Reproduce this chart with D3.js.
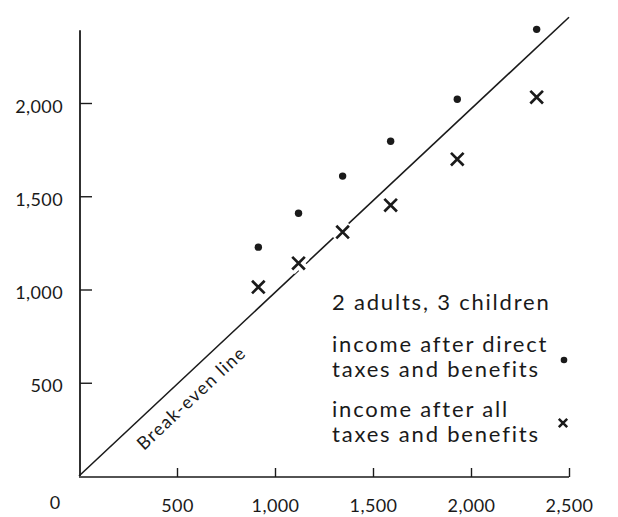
<!DOCTYPE html>
<html><head><meta charset="utf-8">
<script src="https://cdn.jsdelivr.net/npm/d3@7"></script>
<style>
html,body{margin:0;padding:0;background:#fff;}
svg{display:block;font-family:Lato,"Open Sans",sans-serif;}
</style></head>
<body><svg id="c" width="618" height="517"></svg>
<script>
// ---- data ----
const originalIncome = [915, 1120, 1345, 1590, 1930, 2335];
const afterDirect    = [1227, 1409, 1608, 1795, 2020, 2395];
const afterAll       = [1013, 1141, 1308, 1452, 1699, 2031];
const xTicks = [500, 1000, 1500, 2000, 2500];
const yTicks = [500, 1000, 1500, 2000];
const breakEven = [[0, 0], [2500, 2460]];
const legendTitle = "2 adults, 3 children";
const legendItems = [
  {lines: ["income after direct", "taxes and benefits"], symbol: "dot"},
  {lines: ["income after all", "taxes and benefits"], symbol: "cross"}
];
const lineLabel = "Break-even line";

const svg = d3.select("#c");
const x = d3.scaleLinear().domain([0, 2500]).range([79, 569]);
const y = d3.scaleLinear().domain([0, 2000]).range([476, 103]);
const fmt = d3.format(",");
const ink = "#1a1a1a";

// y axis
svg.append("line").attr("x1", x(0) + 1).attr("x2", x(0) + 1)
  .attr("y1", y(0)).attr("y2", y(2390))
  .attr("stroke", ink).attr("stroke-width", 1.8);
const ya = svg.append("g").attr("transform", `translate(${x(0) + 1},0)`)
  .call(d3.axisLeft(y).tickValues(yTicks).tickFormat(fmt).tickSizeInner(-12).tickSizeOuter(0).tickPadding(17));
ya.select(".domain").remove();
ya.selectAll(".tick line").attr("stroke", ink).attr("stroke-width", 1.4);
ya.selectAll(".tick text").attr("font-size", 18).attr("fill", ink).attr("letter-spacing", 0.4)
  .attr("font-family", "Lato").attr("dy", "0.5em");

// x axis
const xa = svg.append("g").attr("transform", `translate(0,${y(0) + 1})`)
  .call(d3.axisBottom(x).tickValues(xTicks).tickFormat(fmt).tickSizeInner(-9).tickSizeOuter(0).tickPadding(22));
xa.select(".domain").attr("stroke", ink).attr("stroke-width", 1.6).attr("d", `M${x(0)},0H${x(2500)}`);
xa.selectAll(".tick line").attr("stroke", ink).attr("stroke-width", 1.4);
xa.selectAll(".tick text").attr("font-size", 18).attr("fill", ink).attr("letter-spacing", 0.4)
  .attr("font-family", "Lato");
svg.append("text").attr("x", 55).attr("y", 509).attr("text-anchor", "middle")
  .attr("font-size", 18).attr("fill", ink).text("0");

// break-even line
svg.append("line")
  .attr("x1", x(breakEven[0][0])).attr("y1", y(breakEven[0][1]))
  .attr("x2", x(breakEven[1][0])).attr("y2", y(breakEven[1][1]))
  .attr("stroke", ink).attr("stroke-width", 1.6);
const ang = Math.atan2(y(breakEven[1][1]) - y(0), x(breakEven[1][0]) - x(0)) * 180 / Math.PI;
svg.append("text")
  .attr("transform", `translate(${x(573)},${y(418)}) rotate(${ang})`)
  .attr("text-anchor", "middle").attr("dy", "0.35em")
  .attr("font-size", 18).attr("letter-spacing", 1.3).attr("fill", ink).text(lineLabel);

// dots
svg.append("g").selectAll("circle").data(originalIncome).join("circle")
  .attr("cx", d => x(d)).attr("cy", (d, i) => y(afterDirect[i])).attr("r", 3.7).attr("fill", ink);

// crosses with white halo (creates gaps in the line)
const cs = 6.3;
const crossPath = s => `M${-s},${-s}L${s},${s}M${-s},${s}L${s},${-s}`;
const cg = svg.append("g").selectAll("g").data(originalIncome).join("g")
  .attr("transform", (d, i) => `translate(${x(d)},${y(afterAll[i])})`);
cg.append("path").attr("d", crossPath(cs + 1)).attr("stroke", "#fff").attr("stroke-width", 10).attr("fill", "none");
cg.append("path").attr("d", crossPath(cs)).attr("stroke", ink).attr("stroke-width", 2.7).attr("fill", "none");

// legend
const lx = 332;
svg.append("text").attr("x", lx).attr("y", 310).attr("font-size", 22).attr("letter-spacing", 1.8)
  .attr("fill", ink).text(legendTitle);
const baseY = [352, 417];
const symY = [360, 423];
legendItems.forEach((it, k) => {
  it.lines.forEach((t, j) => {
    svg.append("text").attr("x", lx).attr("y", baseY[k] + j * 25).attr("font-size", 22)
      .attr("letter-spacing", 1.8).attr("fill", ink).text(t);
  });
  if (it.symbol === "dot") {
    svg.append("circle").attr("cx", 564).attr("cy", symY[k]).attr("r", 3.3).attr("fill", ink);
  } else {
    svg.append("path").attr("transform", `translate(563,${symY[k]})`).attr("d", crossPath(4.2))
      .attr("stroke", ink).attr("stroke-width", 2.5).attr("fill", "none");
  }
});
</script></body></html>
